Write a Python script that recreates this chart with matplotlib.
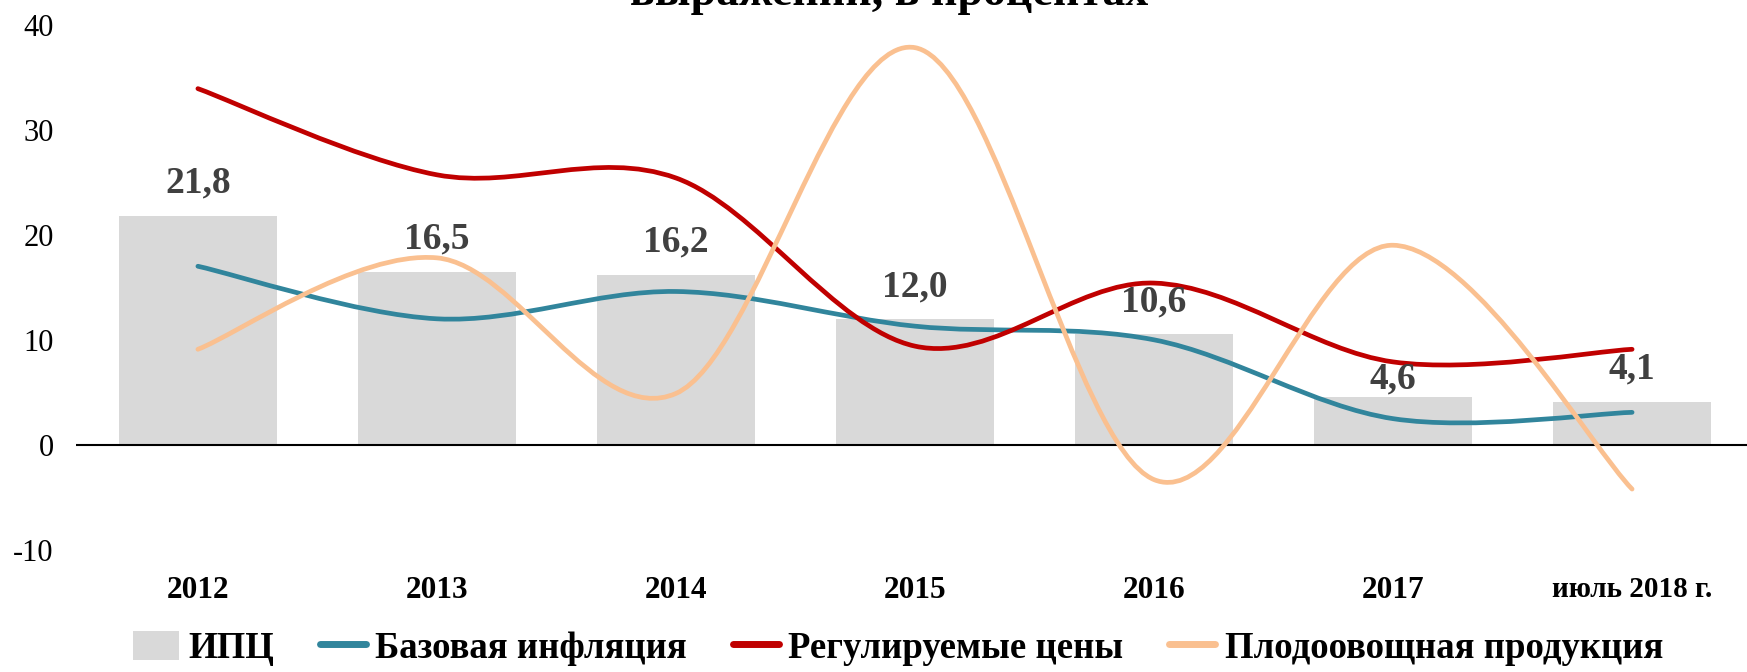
import numpy as np
import matplotlib.pyplot as plt
from matplotlib.path import Path
from matplotlib.patches import PathPatch, Patch
from matplotlib.lines import Line2D

plt.rcParams['font.family'] = ['Liberation Serif', 'DejaVu Serif']
plt.rcParams['axes.unicode_minus'] = False

categories = ['2012', '2013', '2014', '2015', '2016', '2017', 'июль 2018 г.']
cpi = [21.8, 16.5, 16.2, 12.0, 10.6, 4.6, 4.1]
core = [17.0, 12.0, 14.6, 11.3, 10.0, 2.5, 3.1]
regulated = [33.9, 25.7, 25.4, 9.4, 15.4, 7.9, 9.1]
fruit_veg = [9.1, 17.8, 4.9, 37.8, -3.3, 19.0, -4.2]
cpi_labels = ['21,8', '16,5', '16,2', '12,0', '10,6', '4,6', '4,1']
# label offsets above the bars (points); 4,6 sits lower in the original
label_offsets = [11, 11, 11, 10, 10, 0, 11]


def smooth_path(x, y):
    # smoothed line like Excel: cubic Bezier between the points
    pts = np.column_stack([x, y]).astype(float)
    ext = np.vstack([pts[0], pts, pts[-1]])
    verts = [pts[0]]
    codes = [Path.MOVETO]
    for i in range(len(pts) - 1):
        p0, p1, p2, p3 = ext[i], ext[i + 1], ext[i + 2], ext[i + 3]
        verts += [p1 + (p2 - p0) / 6, p2 - (p3 - p1) / 6, p2]
        codes += [Path.CURVE4] * 3
    return Path(verts, codes)


fig = plt.figure(figsize=(17.47, 6.72), dpi=100)
ax = fig.add_axes([0.0435, 0.1815, 0.9605, 0.782])
x = np.arange(len(categories))

ax.bar(x, cpi, width=0.66, color='#D9D9D9', zorder=1)
for xi, v, lab, off in zip(x, cpi, cpi_labels, label_offsets):
    ax.annotate(lab, (xi, v), xytext=(0, off), textcoords='offset points',
                ha='center', va='bottom', fontsize=27, fontweight='bold', color='#404040', zorder=5)

series = [(core, '#31859C'), (regulated, '#C00000'), (fruit_veg, '#FAC090')]
for vals, col in series:
    ax.add_patch(PathPatch(smooth_path(x, vals), facecolor='none', edgecolor=col, lw=3.4,
                           capstyle='round', joinstyle='round', zorder=3))

ax.axhline(0, color='black', lw=1.5, zorder=2)
ax.set_xlim(-0.51, 6.51)
ax.set_ylim(-10, 40)
ax.set_yticks([-10, 0, 10, 20, 30, 40])
ax.set_xticks(x)
ax.set_xticklabels(categories, fontweight='bold')
for i, t in enumerate(ax.get_xticklabels()):
    t.set_fontsize(22.5 if i < 6 else 21)
ax.tick_params(axis='y', labelsize=22, length=0, pad=16)
ax.tick_params(axis='x', length=0, pad=19)
for s in ax.spines.values():
    s.set_visible(False)

fig.text(0.509, 1 - 5 / 672, 'выражении, в процентах', ha='center', va='baseline',
         fontsize=33, fontweight='bold')

handles = [Patch(facecolor='#D9D9D9', edgecolor='none'),
           Line2D([], [], color='#31859C', lw=5, solid_capstyle='round'),
           Line2D([], [], color='#C00000', lw=5, solid_capstyle='round'),
           Line2D([], [], color='#FAC090', lw=5, solid_capstyle='round')]
names = ['ИПЦ', 'Базовая инфляция', 'Регулируемые цены', 'Плодоовощная продукция']
fig.legend(handles, names, loc='center', bbox_to_anchor=(0.514, 0.035), ncol=4,
           frameon=False, prop={'weight': 'bold', 'size': 26.5}, handlelength=1.25,
           handletextpad=0.25, columnspacing=1.25, handleheight=0.85)

fig.savefig('out.png', dpi=100)
